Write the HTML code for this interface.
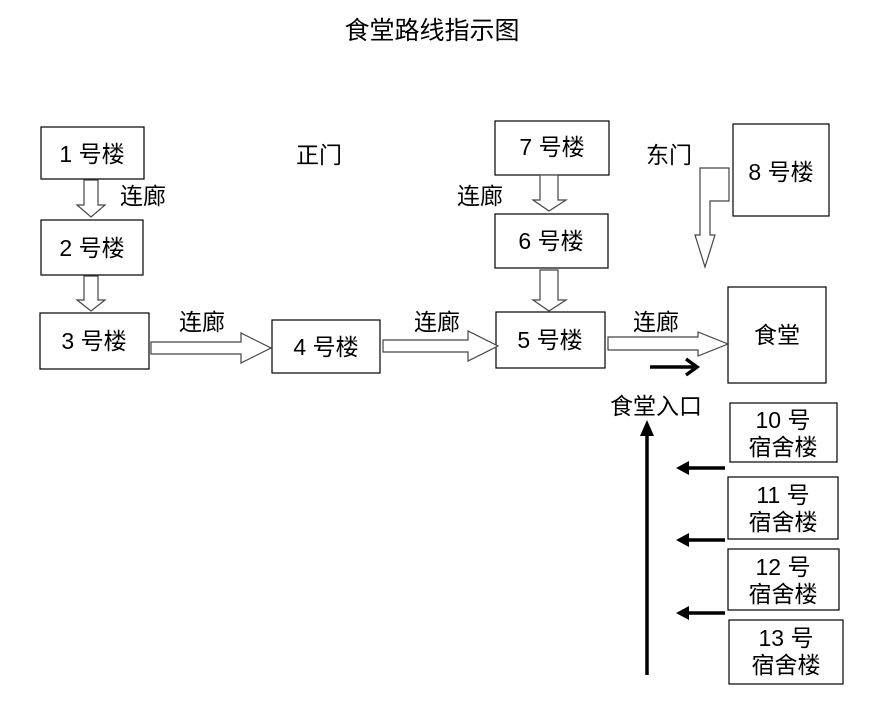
<!DOCTYPE html>
<html><head><meta charset="utf-8"><style>
html,body{margin:0;padding:0;background:#fff;}
svg text{font-family:"Liberation Sans","Noto Sans CJK SC",sans-serif;fill:#000;}
</style></head><body>
<svg width="877" height="709" viewBox="0 0 877 709" xmlns="http://www.w3.org/2000/svg">
<text x="432" y="39" font-size="25" text-anchor="middle">食堂路线指示图</text>
<g fill="#fff" stroke="#000" stroke-width="1.2">
<rect x="41" y="127" width="103" height="52"/>
<rect x="41" y="220" width="102" height="55"/>
<rect x="40" y="313" width="109" height="56"/>
<rect x="272" y="320" width="108" height="53"/>
<rect x="496" y="312" width="109" height="56"/>
<rect x="495" y="121" width="114" height="54"/>
<rect x="495" y="214" width="113" height="54"/>
<rect x="733" y="124" width="96" height="92"/>
<rect x="728" y="287" width="98" height="96"/>
<rect x="730" y="403" width="107" height="59"/>
<rect x="728" y="477" width="110" height="62"/>
<rect x="728" y="549" width="111" height="61"/>
<rect x="729" y="620" width="114" height="64"/>
</g>
<g fill="#fff" stroke="#444" stroke-width="1.2">
<polygon points="84,180 98,180 98,205 105,205 91,217 77,205 84,205"/>
<polygon points="84,276 98,276 98,300 105,300 91,311 77,300 84,300"/>
<polygon points="151,342 241,342 241,333 271,348 241,363 241,354 151,354"/>
<polygon points="383,340 468,340 468,331 498,346 468,361 468,352 383,352"/>
<polygon points="608,337 698,337 698,332 728,344 698,356 698,350 608,350"/>
<polygon points="540,175 558,175 558,200 566,200 549,211 533,200 540,200"/>
<polygon points="540,270 558,270 558,300 566,300 549,311 533,300 540,300"/>
<polygon points="700,168 729,168 729,201 710,201 710,235 715,235 705,267 695,235 700,235"/>
</g>
<g stroke="#000" stroke-width="3.5" fill="none">
<line x1="650" y1="367" x2="696" y2="367"/>
<polyline points="686,359 697,367 686,375"/>
<line x1="647" y1="675" x2="647" y2="430"/>
<line x1="725" y1="468" x2="682" y2="468"/>
<line x1="725" y1="540" x2="682" y2="540"/>
<line x1="725" y1="613" x2="682" y2="613"/>
</g>
<g fill="#000">
<polygon points="647,420 640,436 654,436"/>
<polygon points="676,468 689,461 689,475"/>
<polygon points="676,540 689,533 689,547"/>
<polygon points="676,613 689,606 689,620"/>
</g>
<g font-size="23" text-anchor="middle">
<text x="92" y="162">1 号楼</text>
<text x="92" y="256">2 号楼</text>
<text x="94" y="349">3 号楼</text>
<text x="326" y="355">4 号楼</text>
<text x="550" y="348">5 号楼</text>
<text x="552" y="155">7 号楼</text>
<text x="551" y="249">6 号楼</text>
<text x="781" y="180">8 号楼</text>
<text x="777" y="343">食堂</text>
<text x="783" y="428">10 号</text>
<text x="783" y="455">宿舍楼</text>
<text x="783" y="503">11 号</text>
<text x="783" y="530">宿舍楼</text>
<text x="783" y="575">12 号</text>
<text x="783" y="602">宿舍楼</text>
<text x="786" y="646">13 号</text>
<text x="786" y="673">宿舍楼</text>
<text x="143" y="204">连廊</text>
<text x="319" y="163">正门</text>
<text x="480" y="204">连廊</text>
<text x="669" y="163">东门</text>
<text x="202" y="330">连廊</text>
<text x="437" y="330">连廊</text>
<text x="656" y="330">连廊</text>
<text x="656" y="414">食堂入口</text>
</g>
</svg>
</body></html>
